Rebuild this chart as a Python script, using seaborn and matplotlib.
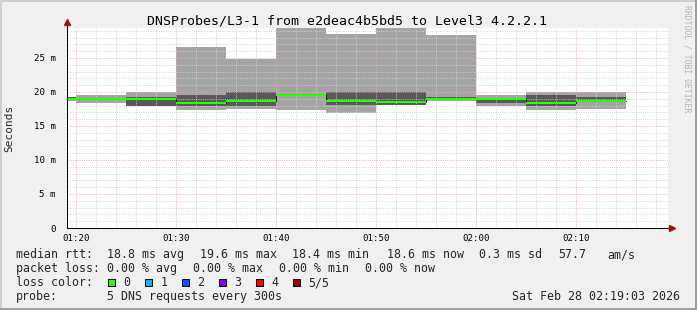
import numpy as np
import pandas as pd
import matplotlib
matplotlib.use("Agg")
import matplotlib.pyplot as plt
import matplotlib.dates as mdates
from matplotlib.patches import Rectangle
from matplotlib.ticker import FuncFormatter
import seaborn as sns

# ---------------- data ----------------
day = "2026-02-28"
seg_end = ["01:20", "01:25", "01:30", "01:35", "01:40", "01:45",
           "01:50", "01:55", "02:00", "02:05", "02:10", "02:15"]
# sorted ping values (ms) per 5-minute step: min, 2nd, median, 4th, max
ping_min = [18.60, 18.43, 17.93, 17.35, 17.50, 17.35, 16.96, 18.10, 18.70, 17.95, 17.35, 17.50]
ping_lo = [18.90, 18.85, 17.95, 18.00, 18.00, 19.52, 18.10, 18.14, 18.95, 18.40, 18.00, 18.55]
ping_med = [18.97, 18.97, 18.97, 18.43, 18.60, 19.60, 18.72, 18.58, 19.03, 18.95, 18.40, 18.60]
ping_hi = [19.25, 19.05, 19.20, 19.60, 20.00, 19.72, 20.00, 20.00, 19.20, 19.00, 19.56, 19.30]
ping_max = [19.30, 19.60, 20.00, 26.60, 24.85, 29.40, 28.57, 29.40, 28.38, 19.56, 20.00, 20.00]

y_ticks = [0, 5, 10, 15, 20, 25]
title = "DNSProbes/L3-1 from e2deac4b5bd5 to Level3 4.2.2.1"

stat_rows = [
    ["median rtt:", "18.8 ms avg", "19.6 ms max", "18.4 ms min", "18.6 ms now", "0.3 ms sd", "57.7", "am/s"],
    ["packet loss:", "0.00 % avg", "0.00 % max", "0.00 % min", "0.00 % now"],
]
stat_x = [
    [16, 107.3, 200, 292.3, 387, 479.3, 558, 607],
    [16, 107.3, 193.3, 279.3, 365.3],
]
loss_labels = ["0", "1", "2", "3", "4", "5/5"]
loss_colors = ["#26ff00", "#00b8ff", "#0059ff", "#7e00ff", "#ff0000", "#a00000"]
probe_text = "5 DNS requests every 300s"
stamp_text = "Sat Feb 28 02:19:03 2026"

# ---------------- style ----------------
sns.set_style("white")
plt.rcParams['font.family'] = ['DejaVu Sans Mono', 'DejaVu Sans']

W, H, DPI = 697, 310, 100
fig = plt.figure(figsize=(W / DPI, H / DPI), dpi=DPI)
fig.patch.set_facecolor('#f0f0f0')


def fx(x):
    return x / W


def fy(y):
    return 1 - y / H


# 3D frame
fig.add_artist(Rectangle((0, fy(2)), 1, 2 / H, transform=fig.transFigure, color='#cfcfcf', lw=0))
fig.add_artist(Rectangle((0, 0), 2 / W, 1, transform=fig.transFigure, color='#cfcfcf', lw=0))
fig.add_artist(Rectangle((0, 0), 1, 2 / H, transform=fig.transFigure, color='#9e9e9e', lw=0))
fig.add_artist(Rectangle((1 - 2 / W, 0), 2 / W, 1, transform=fig.transFigure, color='#9e9e9e', lw=0))

ax = fig.add_axes([fx(67), fy(228), 601 / W, 200 / H])
ax.set_facecolor('white')

ends = pd.to_datetime([f"{day} {t}" for t in seg_end])
edges = pd.DatetimeIndex([ends[0] - pd.Timedelta(minutes=5)] + list(ends))
xs = mdates.date2num(edges.to_pydatetime())


def ext(v):
    v = np.asarray(v, float)
    return np.append(v, v[-1])


ytop = max(ping_max)
ax.fill_between(xs, ext(ping_min), ext(ping_max), step='post', color='#a4a4a4', lw=0, zorder=1)
ax.fill_between(xs, ext(ping_lo), ext(ping_hi), step='post', color='#585858', lw=0, zorder=1.1)
sns.lineplot(x=xs, y=ext(ping_med), drawstyle='steps-post', color='#202020', lw=0.72,
             ax=ax, zorder=3)
half = ytop / 200.0
med = ext(ping_med)
ax.fill_between(xs, med - half, med + half, step='post', color='#26ff00', lw=0, zorder=4)

t0 = mdates.date2num(pd.Timestamp(f"{day} 01:19:06").to_pydatetime())
t1 = t0 + 3606 / 86400.0
ax.set_xlim(t0, t1)
ax.set_ylim(0, ytop)

ax.xaxis.set_major_locator(mdates.MinuteLocator(byminute=range(0, 60, 10)))
ax.xaxis.set_minor_locator(mdates.MinuteLocator(byminute=range(0, 60, 2)))
ax.xaxis.set_major_formatter(mdates.DateFormatter('%H:%M'))
ax.set_yticks(y_ticks)
ax.set_yticks(np.arange(0, 30, 1), minor=True)
ax.yaxis.set_major_formatter(FuncFormatter(lambda v, p: "0" if v == 0 else f"{v:g} m"))
ax.set_xlabel("")
ax.set_ylabel("")

ax.set_axisbelow(False)
ax.grid(which='minor', color='#d0d0d0', ls=(0, (1, 1.2)), lw=0.6)
ax.grid(which='major', color='#f4a6a6', ls=(0, (1, 1.2)), lw=0.6)

for s in ax.spines.values():
    s.set_visible(False)
ax.tick_params(axis='both', which='major', direction='inout', length=2.9, width=0.72,
               color='black', labelsize=6.6, labelcolor='black')
ax.tick_params(axis='both', which='minor', direction='inout', length=1.5, width=0.72,
               color='black')
ax.tick_params(axis='x', which='major', pad=2.6)
ax.tick_params(axis='y', which='major', pad=6.8)

# axis lines with arrows
ax.plot([0, 0], [0, 1 + 3 / 200], transform=ax.transAxes, color='black', lw=0.72,
        clip_on=False, zorder=6)
ax.plot([0, 1 + 2 / 601], [0, 0], transform=ax.transAxes, color='black', lw=0.72,
        clip_on=False, zorder=6)
ax.plot([0], [1 + 5.5 / 200], marker='^', ms=4, color='#a01010', transform=ax.transAxes,
        clip_on=False, zorder=7)
ax.plot([1 + 4 / 601], [0], marker='>', ms=4, color='#a01010', transform=ax.transAxes,
        clip_on=False, zorder=7)

# texts
fig.text(fx(347.3), fy(24), title, ha='center', va='baseline', fontsize=9.5, color='black')
fig.text(fx(9.5), fy(128), "Seconds", rotation=90, ha='center', va='center', fontsize=8)
fig.text(fx(687.5), fy(5), "RRDTOOL / TOBI OETIKER", rotation=270, ha='center', va='top',
         fontsize=5.9, color='#b4b4b4')

rows_y = [258, 272, 286, 300]
for r, (items, xpos) in enumerate(zip(stat_rows, stat_x)):
    for txt, x in zip(items, xpos):
        fig.text(fx(x), fy(rows_y[r]), txt, ha='left', va='baseline', fontsize=8.4)

fig.text(fx(16), fy(rows_y[2]), "loss color:", ha='left', va='baseline', fontsize=8.4)
for i, (lab, col) in enumerate(zip(loss_labels, loss_colors)):
    left = 108.3 + i * 37.0
    fig.add_artist(Rectangle((fx(left), fy(286)), 6.7 / W, 6.7 / H, transform=fig.transFigure,
                             facecolor=col, edgecolor='black', lw=0.72))
    fig.text(fx(left + 15), fy(rows_y[2]), lab, ha='left', va='baseline', fontsize=8.4)

fig.text(fx(16), fy(rows_y[3]), "probe:", ha='left', va='baseline', fontsize=8.4)
fig.text(fx(107.3), fy(rows_y[3]), probe_text, ha='left', va='baseline', fontsize=8.4)
fig.text(fx(680), fy(rows_y[3]), stamp_text, ha='right', va='baseline', fontsize=8.4)

fig.savefig("out.png", dpi=DPI, facecolor=fig.get_facecolor())
